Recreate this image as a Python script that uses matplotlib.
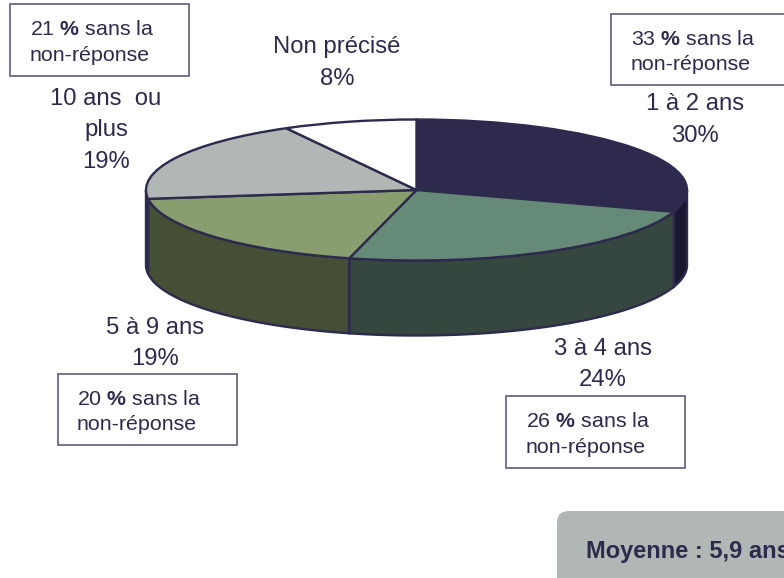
import numpy as np
import matplotlib
matplotlib.use('Agg')
import matplotlib.pyplot as plt
from matplotlib.patches import Rectangle, FancyBboxPatch

plt.rcParams['font.family'] = ['Liberation Sans', 'DejaVu Sans']
plt.rcParams['mathtext.fontset'] = 'custom'
plt.rcParams['mathtext.rm'] = 'Liberation Sans'
plt.rcParams['mathtext.bf'] = 'Liberation Sans:bold'

# data
categories = ['1 à 2 ans', '3 à 4 ans', '5 à 9 ans', '10 ans  ou\nplus', 'Non précisé']
shares = [30, 24, 19, 19, 8]
shares_no_blank = [33, 26, 20, 21]
mean_text = 'Moyenne : 5,9 ans'

INK = '#2d2a4e'
top_colors = [INK, '#668a78', '#899e6e', '#b0b7b4', '#ffffff']
side_colors = ['#1a1730', '#36473f', '#454f36', INK, '#ffffff']

W, H = 784, 578
CX, CY = 416.5, 190   # centre of the top face, pixels
RX, RY = 270.5, 70.5
DEPTH = 75 / RY

fig = plt.figure(figsize=(W / 100, H / 100), dpi=100)

# pie axes: one data unit is RX across and RY down, which flattens the circle
ax = fig.add_axes([0, 0, 1, 1])
wedges, _ = ax.pie(shares, colors=top_colors, startangle=90, counterclock=False,
                   wedgeprops={'edgecolor': INK, 'linewidth': 1.7})
ax.set_aspect('auto')
ax.set_xlim(-CX / RX, (W - CX) / RX)
ax.set_ylim(-(H - CY) / RY, CY / RY)

# walls, only for the front half of the pie
for w, col in zip(wedges, side_colors):
    lo, hi = max(w.theta1, -180), min(w.theta2, 0)
    if lo >= hi:
        continue
    t = np.radians(np.linspace(lo, hi, 60))
    xs = np.r_[np.cos(t), np.cos(t)[::-1]]
    ys = np.r_[np.sin(t), np.sin(t)[::-1] - DEPTH]
    ax.fill(xs, ys, facecolor=col, edgecolor=INK, linewidth=1.7, zorder=0.5)

# everything else is placed in pixels
over = fig.add_axes([0, 0, 1, 1], facecolor='none')
over.set_xlim(0, W)
over.set_ylim(H, 0)
over.axis('off')


def label(x, baselines, lines):
    for y, s in zip(baselines, lines):
        over.text(x, y, s, ha='center', va='baseline', fontsize=17.2, color=INK)


label(695, [110, 142], [categories[0], f'{shares[0]}%'])
label(603, [355, 386], [categories[1], f'{shares[1]}%'])
label(155, [334, 365], [categories[2], f'{shares[2]}%'])
label(106, [105, 136, 168], categories[3].split('\n') + [f'{shares[3]}%'])
label(337, [53, 85], [categories[4], f'{shares[4]}%'])


def note(box, tx, baselines, pct):
    x0, y0, x1, y1 = box
    over.add_patch(Rectangle((x0, y0), x1 - x0, y1 - y0, facecolor='white',
                             edgecolor='#5f5d7c', linewidth=1.2, clip_on=False))
    over.text(tx, baselines[0], f'{pct} ' + r'$\mathbf{\%}$' + ' sans la',
              va='baseline', fontsize=15.4, color=INK)
    over.text(tx, baselines[1], 'non-réponse', va='baseline', fontsize=15.4, color=INK)


note((611, 14, 800, 85), 631, [45, 70], shares_no_blank[0])
note((506, 396, 685, 468), 526, [427, 453], shares_no_blank[1])
note((58, 374, 237, 445), 77, [405, 430], shares_no_blank[2])
note((10, 4, 189, 76), 30, [35, 61], shares_no_blank[3])

over.add_patch(FancyBboxPatch((567, 521), 240, 80, boxstyle='round,pad=10,rounding_size=12',
                              facecolor='#b0b7b4', edgecolor='none', clip_on=False))
over.text(586, 558, mean_text, va='baseline', fontsize=17, fontweight='bold', color=INK)

fig.savefig('out.png', dpi=100)
